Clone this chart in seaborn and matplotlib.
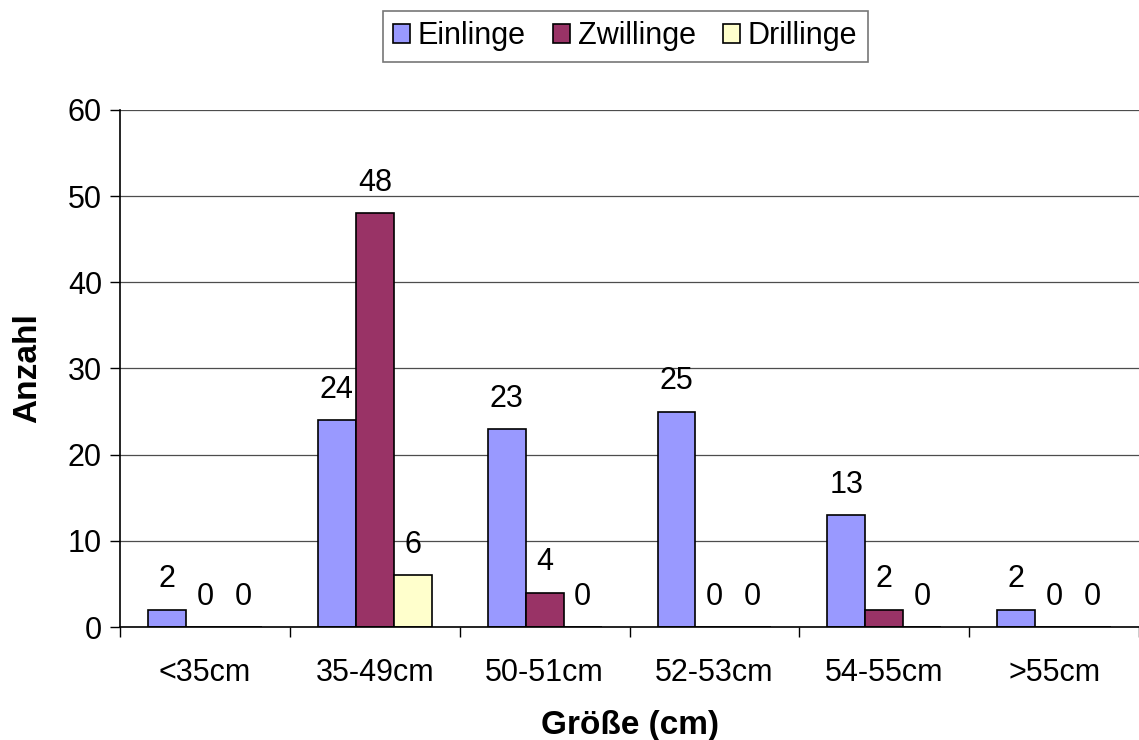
import matplotlib
matplotlib.use("Agg")
import matplotlib.pyplot as plt
import seaborn as sns
import pandas as pd
import numpy as np
from matplotlib.ticker import FixedLocator

# Data
groessen = ["<35cm", "35-49cm", "50-51cm", "52-53cm", "54-55cm", ">55cm"]
einlinge = [2, 24, 23, 25, 13, 2]
zwillinge = [0, 48, 4, 0, 2, 0]
drillinge = [0, 6, 0, 0, 0, 0]
serien = ["Einlinge", "Zwillinge", "Drillinge"]
farben = ["#9999FF", "#993366", "#FFFFCC"]

df = pd.DataFrame({
    "Größe": groessen * 3,
    "Anzahl": einlinge + zwillinge + drillinge,
    "Serie": [s for s in serien for _ in groessen],
})

sns.set_theme(style="white")
plt.rcParams["font.family"] = ["Liberation Sans", "DejaVu Sans"]
plt.rcParams["text.color"] = "black"
plt.rcParams["axes.labelcolor"] = "black"
plt.rcParams["xtick.color"] = "black"
plt.rcParams["ytick.color"] = "black"

fig = plt.figure(figsize=(11.39, 7.40), dpi=100)
ax = fig.add_axes([0.1054, 0.1527, 0.8946, 0.6987])
ax.set_axisbelow(True)

sns.barplot(data=df, x="Größe", y="Anzahl", hue="Serie", order=groessen,
            hue_order=serien, palette=farben, width=0.67, gap=0,
            edgecolor="black", linewidth=1.2, saturation=1, ax=ax, legend=True)

for cont in ax.containers:
    ax.bar_label(cont, labels=[f"{int(v)}" for v in cont.datavalues],
                 padding=11, fontsize=22, color="black")

ax.set_ylim(0, 60)
ax.set_xlim(-0.5, len(groessen) - 0.5)
ax.set_yticks(np.arange(0, 61, 10))
ax.yaxis.grid(True, color="#4d4d4d", linewidth=0.9)
ax.tick_params(axis="y", labelsize=22, length=7, width=1, direction="out",
               left=True, pad=6)
ax.tick_params(axis="x", labelsize=22, length=0, pad=22)
ax.xaxis.set_minor_locator(FixedLocator(np.arange(-0.5, len(groessen), 1.0)))
ax.tick_params(axis="x", which="minor", length=7, width=1,
               direction="out", bottom=True)

for side in ["top", "right"]:
    ax.spines[side].set_visible(False)
for side in ["left", "bottom"]:
    ax.spines[side].set_color("black")
    ax.spines[side].set_linewidth(1.2)

ax.set_xlabel("Größe (cm)", fontsize=24, fontweight="bold", labelpad=16)
ax.set_ylabel("Anzahl", fontsize=24, fontweight="bold", labelpad=18)

handles, labels = ax.get_legend_handles_labels()
ax.legend_.remove()
leg = fig.legend(handles, labels, loc="center", bbox_to_anchor=(0.549, 0.951),
                 ncol=3, fontsize=22, frameon=True, fancybox=False,
                 edgecolor="#555555", handlelength=0.55, handleheight=0.55,
                 handletextpad=0.25, columnspacing=0.9, borderpad=0.35,
                 borderaxespad=0)
leg.get_frame().set_linewidth(1.2)

fig.savefig("out.png", dpi=100)
